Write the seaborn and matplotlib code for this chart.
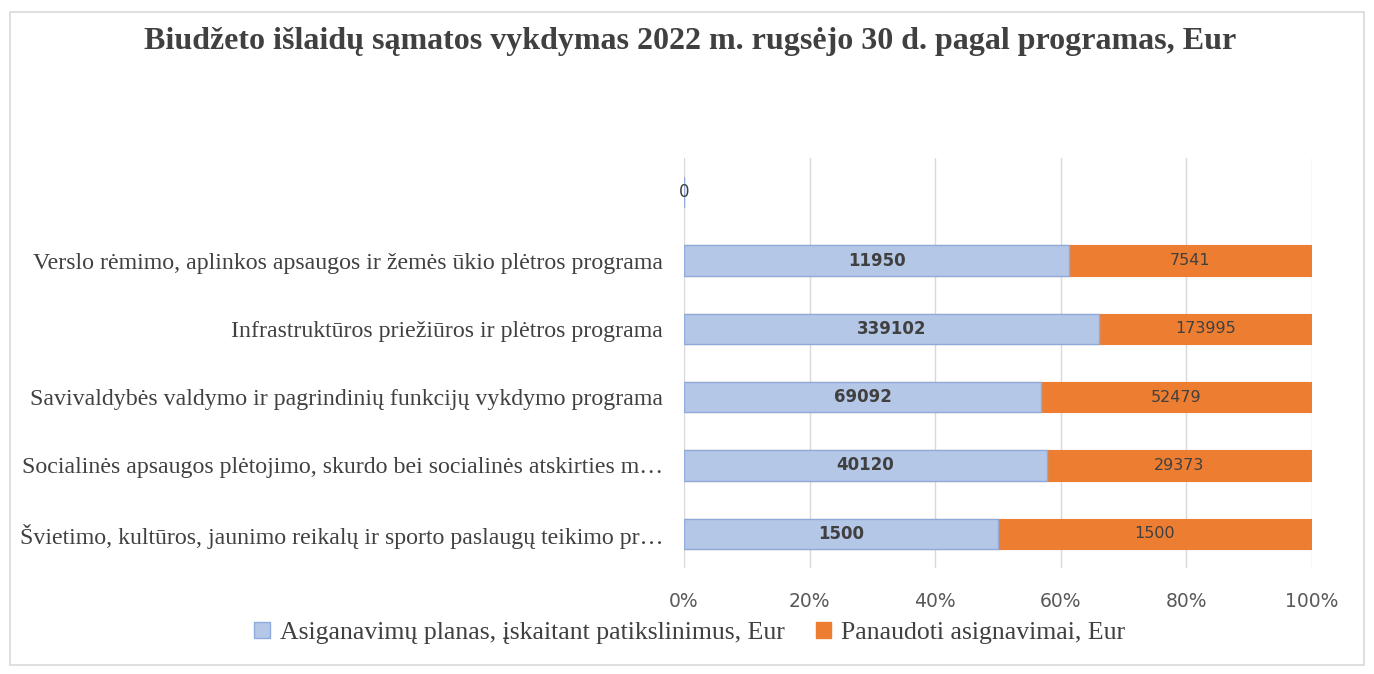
import numpy as np
import pandas as pd
import matplotlib.pyplot as plt
import seaborn as sns
from matplotlib.patches import Rectangle, Patch

sns.set_theme(style="white")

programs = [
    "",
    "Verslo rėmimo, aplinkos apsaugos ir žemės ūkio plėtros programa",
    "Infrastruktūros priežiūros ir plėtros programa",
    "Savivaldybės valdymo ir pagrindinių funkcijų vykdymo programa",
    "Socialinės apsaugos plėtojimo, skurdo bei socialinės atskirties m…",
    "Švietimo, kultūros, jaunimo reikalų ir sporto paslaugų teikimo pr…",
]
plan = [0, 11950, 339102, 69092, 40120, 1500]
used = [0, 7541, 173995, 52479, 29373, 1500]
series_names = ["Asiganavimų planas, įskaitant patikslinimus, Eur",
                "Panaudoti asignavimai, Eur"]
title = "Biudžeto išlaidų sąmatos vykdymas 2022 m. rugsėjo 30 d. pagal programas, Eur"

df = pd.DataFrame({"program": programs, "plan": plan, "used": used})
total = df["plan"] + df["used"]
df["plan_pct"] = np.where(total > 0, df["plan"] / total.replace(0, 1) * 100, 0)
df["total_pct"] = np.where(total > 0, 100, 0)

blue = "#B4C7E7"
blue_edge = "#8FAADC"
orange = "#ED7D31"
serif = ["Liberation Serif", "DejaVu Serif"]

fig = plt.figure(figsize=(13.74, 6.74), dpi=100)
ax = fig.add_axes([684 / 1374, 1 - 568 / 674, 628 / 1374, 410 / 674])

sns.barplot(data=df, x="total_pct", y="program", color=orange, saturation=1,
            width=0.44, ax=ax, edgecolor=orange, linewidth=0.8)
sns.barplot(data=df, x="plan_pct", y="program", color=blue, saturation=1,
            width=0.44, ax=ax, edgecolor=blue_edge, linewidth=1.0)

ax.set_xlim(0, 100)
ax.set_xticks([0, 20, 40, 60, 80, 100])
ax.set_xticklabels([f"{t}%" for t in [0, 20, 40, 60, 80, 100]])
ax.tick_params(axis="x", labelsize=13.5, labelcolor="#595959", length=0, pad=17)
ax.tick_params(axis="y", length=0, pad=15)
for lbl in ax.get_yticklabels():
    lbl.set_fontfamily(serif)
    lbl.set_fontsize(17.2)
    lbl.set_color("#404040")
ax.set_xlabel("")
ax.set_ylabel("")
ax.grid(axis="x", color="#D9D9D9", linewidth=1)
ax.set_axisbelow(True)
for s in ax.spines.values():
    s.set_visible(False)

for i, row in df.iterrows():
    if total[i] == 0:
        ax.text(0, i, "0", ha="center", va="center", fontsize=12, color="#404040")
        continue
    ax.text(row["plan_pct"] / 2, i, f"{row['plan']}", ha="center", va="center",
            fontsize=12, fontweight="bold", color="#404040")
    ax.text((row["plan_pct"] + 100) / 2, i, f"{row['used']}", ha="center",
            va="center", fontsize=11.5, color="#404040")

fig.text(0.502, 1 - 41 / 674, title, ha="center", va="center",
         fontfamily=serif, fontsize=23, fontweight="bold", color="#404040")

handles = [Patch(facecolor=blue, edgecolor=blue_edge), Patch(facecolor=orange, edgecolor=orange)]
fig.legend(handles, series_names, loc="center", bbox_to_anchor=(0.502, 1 - 633 / 674),
           ncol=2, frameon=False, prop={"family": serif, "size": 18.5},
           handlelength=0.6, handleheight=0.6, handletextpad=0.4, columnspacing=1.2,
           labelcolor="#404040")

fig.patches.append(Rectangle((10 / 1374, 1 - 665 / 674), 1354 / 1374, 653 / 674,
                             transform=fig.transFigure, fill=False,
                             edgecolor="#D9D9D9", linewidth=1.2))

fig.savefig("out.png", dpi=100)
